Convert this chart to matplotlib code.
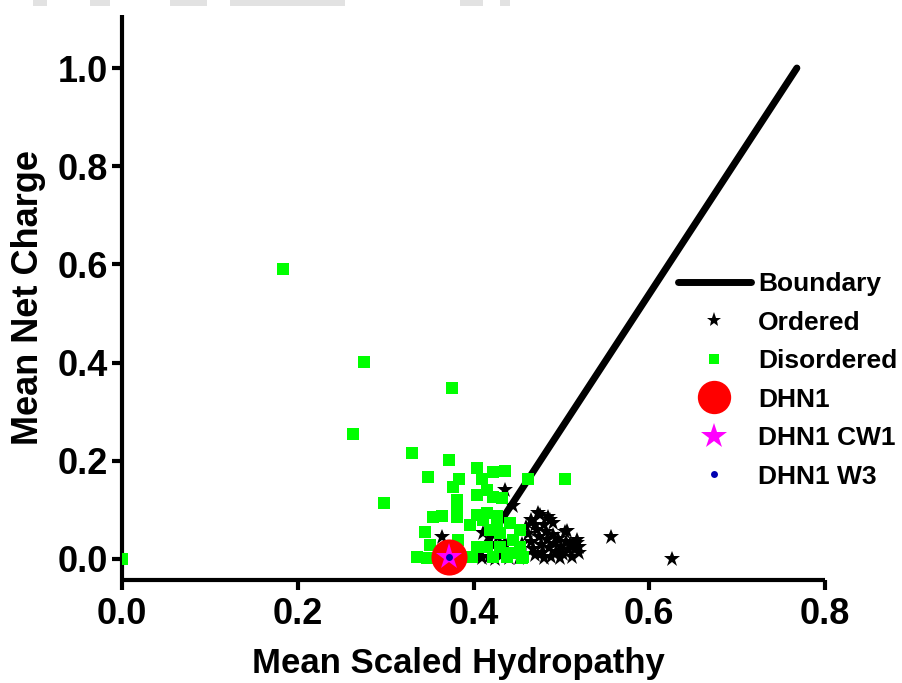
import matplotlib
matplotlib.use("Agg")
import matplotlib.pyplot as plt
from matplotlib.lines import Line2D
from matplotlib.patches import Rectangle

plt.rcParams['font.family'] = ['Liberation Sans', 'DejaVu Sans']
plt.rcParams['font.weight'] = 'bold'

# Charge-hydropathy boundary (Uversky plot)
boundary_x = [0.403, 0.768]
boundary_y = [0.0, 1.0]

# Ordered proteins
ordered_x = [0.556, 0.626, 0.445, 0.436, 0.473, 0.487, 0.490, 0.504, 0.506, 0.518,
             0.518, 0.411, 0.364, 0.476,
             0.462, 0.466, 0.468, 0.470, 0.472, 0.475, 0.477, 0.478, 0.480, 0.482,
             0.484, 0.486, 0.488, 0.490, 0.492, 0.494, 0.496, 0.498, 0.500, 0.502,
             0.505, 0.508, 0.510, 0.512, 0.515, 0.520, 0.520, 0.458, 0.455, 0.452,
             0.448, 0.440, 0.432, 0.425, 0.418, 0.410, 0.460, 0.470, 0.480, 0.485,
             0.465, 0.428, 0.420, 0.436]
ordered_y = [0.045, 0.000, 0.108, 0.141, 0.094, 0.079, 0.073, 0.055, 0.058, 0.039,
             0.033, 0.053, 0.045, 0.090,
             0.050, 0.035, 0.020, 0.008, 0.060, 0.045, 0.028, 0.012, 0.002, 0.055,
             0.038, 0.022, 0.005, 0.048, 0.030, 0.015, 0.040, 0.002, 0.025, 0.010,
             0.035, 0.018, 0.030, 0.005, 0.020, 0.012, 0.025, 0.010, 0.030, 0.002,
             0.015, 0.002, 0.008, 0.000, 0.005, 0.002, 0.065, 0.070, 0.070, 0.085,
             0.080, 0.045, 0.030, 0.032]

# Disordered proteins
disordered_x = [0.183, 0.275, 0.376, 0.263, 0.298, 0.330, 0.504, 0.462, 0.000, 0.372,
                0.348, 0.377, 0.404, 0.422, 0.436, 0.383, 0.410, 0.404, 0.415, 0.422,
                0.432, 0.381, 0.354, 0.364, 0.381, 0.404, 0.415, 0.427, 0.396, 0.345,
                0.350, 0.336, 0.382, 0.404, 0.398, 0.415, 0.430, 0.430, 0.445, 0.453,
                0.422, 0.438, 0.456, 0.444, 0.381, 0.411, 0.427, 0.442, 0.419, 0.453,
                0.455, 0.347]
disordered_y = [0.591, 0.401, 0.348, 0.255, 0.114, 0.216, 0.163, 0.163, 0.000, 0.202,
                0.167, 0.147, 0.185, 0.177, 0.179, 0.163, 0.163, 0.130, 0.141, 0.126,
                0.124, 0.120, 0.086, 0.088, 0.086, 0.090, 0.094, 0.088, 0.069, 0.055,
                0.029, 0.004, 0.039, 0.024, 0.004, 0.024, 0.053, 0.024, 0.039, 0.024,
                0.004, 0.004, 0.004, 0.012, 0.110, 0.079, 0.073, 0.073, 0.059, 0.059,
                0.002, 0.002]

# DHN1 and its variants
dhn1_x, dhn1_y = [0.372], [0.005]
cw1_x, cw1_y = [0.372], [0.005]
w3_x, w3_y = [0.372], [0.005]

x_ticks = [0.0, 0.2, 0.4, 0.6, 0.8]
y_ticks = [0.0, 0.2, 0.4, 0.6, 0.8, 1.0]

W, H = 903, 683
fig = plt.figure(figsize=(W / 100, H / 100), dpi=100)
ax = fig.add_axes([122 / W, 1 - 580 / H, (825 - 122) / W, (580 - 15) / H])

ax.plot(boundary_x, boundary_y, color='black', lw=5, solid_capstyle='round', zorder=2)
ax.plot(ordered_x, ordered_y, ls='none', marker='*', ms=12, color='black',
        markeredgewidth=0, zorder=3)
ax.plot(disordered_x, disordered_y, ls='none', marker='s', ms=8.6, color='#00ff00',
        markeredgewidth=0, zorder=4)
ax.plot(dhn1_x, dhn1_y, ls='none', marker='o', ms=26, color='#ff0000',
        markeredgewidth=0, zorder=5)
ax.plot(cw1_x, cw1_y, ls='none', marker='*', ms=20, color='#ff00ff',
        markeredgewidth=0, zorder=6)
ax.plot(w3_x, w3_y, ls='none', marker='o', ms=5, color='#0000b0',
        markeredgewidth=0, zorder=7)

ax.set_xlim(0, 0.8)
ax.set_ylim(-0.0428, 1.108)
ax.set_xticks(x_ticks)
ax.set_yticks(y_ticks)
ax.set_xticklabels([f"{v:.1f}" for v in x_ticks])
ax.set_yticklabels([f"{v:.1f}" for v in y_ticks])

for side in ('top', 'right'):
    ax.spines[side].set_visible(False)
for side in ('left', 'bottom'):
    ax.spines[side].set_linewidth(3)
    ax.spines[side].set_capstyle('butt')
ax.tick_params(axis='both', direction='out', length=7, width=3, labelsize=26)
ax.tick_params(axis='x', pad=5)
ax.tick_params(axis='y', pad=3)

ax.set_xlabel('Mean Scaled Hydropathy', fontsize=25, fontweight='bold')
ax.set_ylabel('Mean Net Charge', fontsize=26, fontweight='bold')
ax.xaxis.set_label_coords((458 - 122) / (825 - 122), -0.118)
ax.yaxis.set_label_coords(-0.108, 0.5)

handles = [
    Line2D([], [], color='black', lw=5, solid_capstyle='round'),
    Line2D([], [], ls='none', marker='*', ms=11, color='black', markeredgewidth=0),
    Line2D([], [], ls='none', marker='s', ms=7.2, color='#00ff00', markeredgewidth=0),
    Line2D([], [], ls='none', marker='o', ms=24, color='#ff0000', markeredgewidth=0),
    Line2D([], [], ls='none', marker='*', ms=19, color='#ff00ff', markeredgewidth=0),
    Line2D([], [], ls='none', marker='o', ms=5, color='#0000b0', markeredgewidth=0),
]
labels = ['Boundary', 'Ordered', 'Disordered', 'DHN1', 'DHN1 CW1', 'DHN1 W3']
ax.legend(handles, labels, loc='upper left',
          bbox_to_anchor=(678 / W, 1 - 272 / H), bbox_transform=fig.transFigure,
          frameon=False, borderpad=0, borderaxespad=0,
          handlelength=2.75, handletextpad=0.28, labelspacing=0.55,
          prop={'size': 19, 'weight': 'bold'})

# faint grey strip along the top edge of the page
for x0, x1 in [(33, 47), (90, 110), (170, 207), (230, 345), (460, 483), (500, 510)]:
    fig.patches.append(Rectangle((x0 / W, 1 - 6 / H), (x1 - x0) / W, 6 / H,
                                 transform=fig.transFigure, color='#e2e2e2', lw=0))

fig.savefig('out.png', dpi=100)
